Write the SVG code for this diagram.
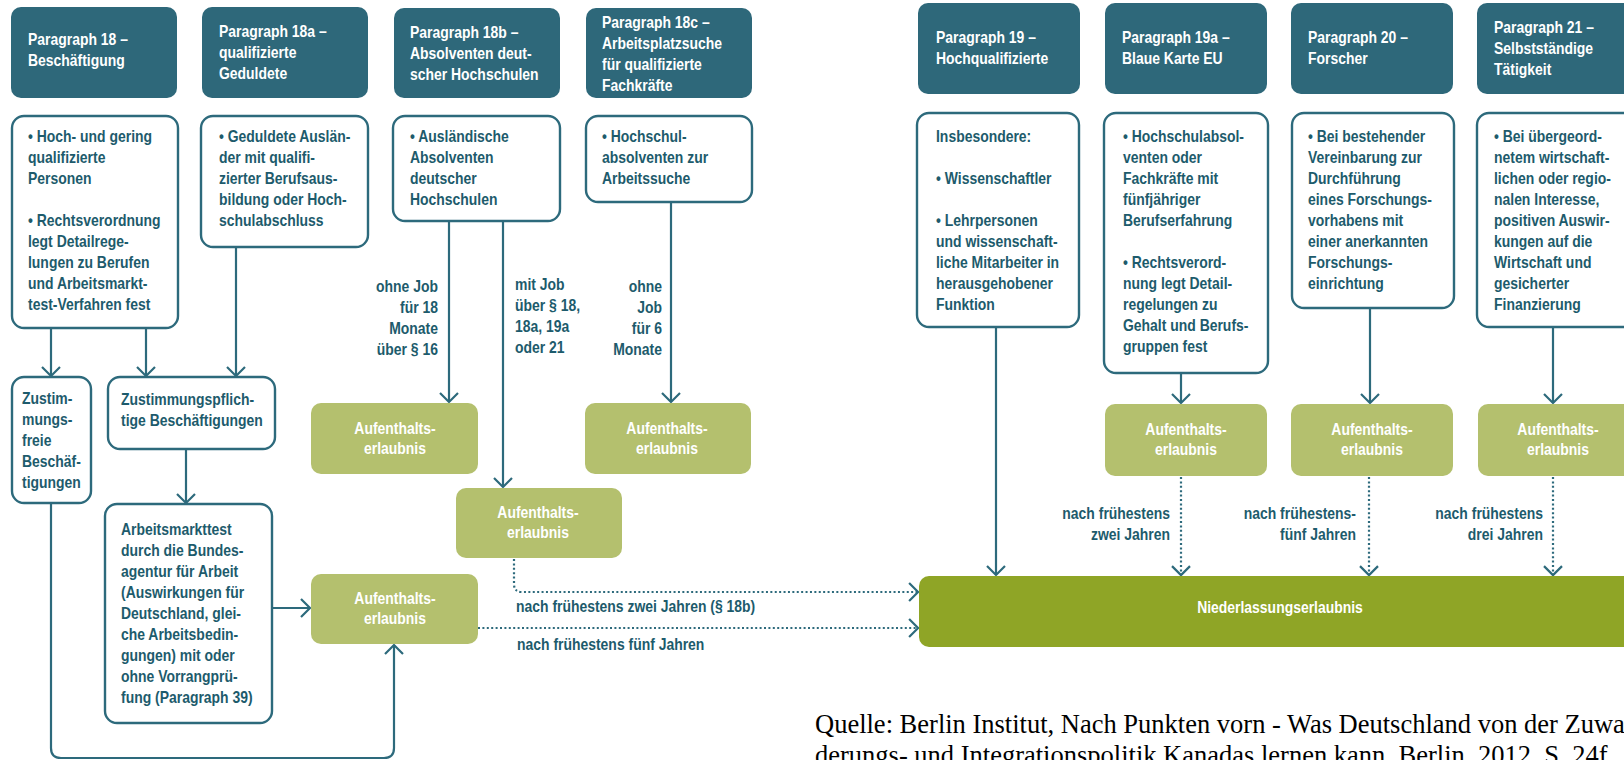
<svg xmlns="http://www.w3.org/2000/svg" width="1624" height="760" viewBox="0 0 1624 760">
<defs>
<marker id="ah" viewBox="-12 -12 24 24" markerWidth="24" markerHeight="24" refX="0" refY="0" orient="auto" markerUnits="userSpaceOnUse">
<path d="M-9,-9 L0,0 L-9,9" fill="none" stroke="#2d6a7c" stroke-width="2.2"/>
</marker>
<style>
.hd{fill:#2e687a}
.bx{fill:#fff;stroke:#2d6a7c;stroke-width:2.4}
.gr{fill:#b4c06e}
.dg{fill:#8fa526}
text{font-family:"Liberation Sans",Arial,sans-serif;font-weight:bold;font-size:16.5px;transform-box:fill-box;transform-origin:0% 50%;transform:scaleX(0.845)}
.wt{fill:#fff}
.tt{fill:#1d5b6c}
.c{text-anchor:middle;transform-origin:50% 50%}
.r{text-anchor:end;transform-origin:100% 50%}
.ln{fill:none;stroke:#2d6a7c;stroke-width:2.2}
.dt{fill:none;stroke:#2d6a7c;stroke-width:2.2;stroke-dasharray:2 2.4}
text.src{font-family:"Liberation Serif","Times New Roman",serif;font-weight:normal;font-size:26.5px;fill:#000;transform:none}
</style>
</defs>
<rect width="1624" height="760" fill="#fff"/>

<g id="connectors">
<path class="ln" d="M51,328 V376" marker-end="url(#ah)"/>
<path class="ln" d="M146,328 V376" marker-end="url(#ah)"/>
<path class="ln" d="M236,247 V376" marker-end="url(#ah)"/>
<path class="ln" d="M186,449 V503" marker-end="url(#ah)"/>
<path class="ln" d="M272,608 H310" marker-end="url(#ah)"/>
<path class="ln" d="M51,503 V748 Q51,758 61,758 H384 Q394,758 394,748 V645" marker-end="url(#ah)"/>
<path class="ln" d="M449,221 V402" marker-end="url(#ah)"/>
<path class="ln" d="M503,221 V487" marker-end="url(#ah)"/>
<path class="ln" d="M671,202 V402" marker-end="url(#ah)"/>
<path class="dt" d="M514,559 V584 Q514,592 522,592 H918" />
<path class="ln" d="M918,592 H918.1" marker-end="url(#ah)"/>
<path class="dt" d="M478,628 H918"/>
<path class="ln" d="M918,628 H918.1" marker-end="url(#ah)"/>
<path class="ln" d="M996,327 V575" marker-end="url(#ah)"/>
<path class="ln" d="M1181,373 V403" marker-end="url(#ah)"/>
<path class="ln" d="M1370,308 V403" marker-end="url(#ah)"/>
<path class="ln" d="M1553,327 V403" marker-end="url(#ah)"/>
<path class="dt" d="M1181,477 V575"/>
<path class="ln" d="M1181,575 V575.1" marker-end="url(#ah)"/>
<path class="dt" d="M1369,477 V575"/>
<path class="ln" d="M1369,575 V575.1" marker-end="url(#ah)"/>
<path class="dt" d="M1553,477 V575"/>
<path class="ln" d="M1553,575 V575.1" marker-end="url(#ah)"/>
</g>

<g id="h18">
<rect class="hd" x="11" y="7" width="166" height="91" rx="10"/>
<text class="wt" x="28" y="45">Paragraph 18 –</text>
<text class="wt" x="28" y="66">Beschäftigung</text>
</g>
<g id="h18a">
<rect class="hd" x="202" y="7" width="166" height="91" rx="10"/>
<text class="wt" x="219" y="37">Paragraph 18a –</text>
<text class="wt" x="219" y="58">qualifizierte</text>
<text class="wt" x="219" y="79">Geduldete</text>
</g>
<g id="h18b">
<rect class="hd" x="394" y="8" width="166" height="90" rx="10"/>
<text class="wt" x="410" y="38">Paragraph 18b –</text>
<text class="wt" x="410" y="59">Absolventen deut-</text>
<text class="wt" x="410" y="80">scher Hochschulen</text>
</g>
<g id="h18c">
<rect class="hd" x="586" y="8" width="166" height="90" rx="10"/>
<text class="wt" x="602" y="28">Paragraph 18c –</text>
<text class="wt" x="602" y="49">Arbeitsplatzsuche</text>
<text class="wt" x="602" y="70">für qualifizierte</text>
<text class="wt" x="602" y="91">Fachkräfte</text>
</g>
<g id="h19">
<rect class="hd" x="918" y="3" width="162" height="91" rx="10"/>
<text class="wt" x="936" y="43">Paragraph 19 –</text>
<text class="wt" x="936" y="64">Hochqualifizierte</text>
</g>
<g id="h19a">
<rect class="hd" x="1105" y="3" width="162" height="91" rx="10"/>
<text class="wt" x="1122" y="43">Paragraph 19a –</text>
<text class="wt" x="1122" y="64">Blaue Karte EU</text>
</g>
<g id="h20">
<rect class="hd" x="1291" y="3" width="162" height="91" rx="10"/>
<text class="wt" x="1308" y="43">Paragraph 20 –</text>
<text class="wt" x="1308" y="64">Forscher</text>
</g>
<g id="h21">
<rect class="hd" x="1477" y="3" width="163" height="91" rx="10"/>
<text class="wt" x="1494" y="33">Paragraph 21 –</text>
<text class="wt" x="1494" y="54">Selbstständige</text>
<text class="wt" x="1494" y="75">Tätigkeit</text>
</g>

<g id="b18">
<rect class="bx" x="12" y="116" width="166" height="212" rx="12"/>
<text class="tt" x="28" y="142">• Hoch- und gering</text>
<text class="tt" x="28" y="163">qualifizierte</text>
<text class="tt" x="28" y="184">Personen</text>
<text class="tt" x="28" y="226">• Rechtsverordnung</text>
<text class="tt" x="28" y="247">legt Detailrege-</text>
<text class="tt" x="28" y="268">lungen zu Berufen</text>
<text class="tt" x="28" y="289">und Arbeitsmarkt-</text>
<text class="tt" x="28" y="310">test-Verfahren fest</text>
</g>
<g id="b18a">
<rect class="bx" x="201" y="116" width="167" height="131" rx="12"/>
<text class="tt" x="219" y="142">• Geduldete Auslän-</text>
<text class="tt" x="219" y="163">der mit qualifi-</text>
<text class="tt" x="219" y="184">zierter Berufsaus-</text>
<text class="tt" x="219" y="205">bildung oder Hoch-</text>
<text class="tt" x="219" y="226">schulabschluss</text>
</g>
<g id="b18b">
<rect class="bx" x="393" y="116" width="167" height="105" rx="12"/>
<text class="tt" x="410" y="142">• Ausländische</text>
<text class="tt" x="410" y="163">Absolventen</text>
<text class="tt" x="410" y="184">deutscher</text>
<text class="tt" x="410" y="205">Hochschulen</text>
</g>
<g id="b18c">
<rect class="bx" x="586" y="116" width="166" height="86" rx="12"/>
<text class="tt" x="602" y="142">• Hochschul-</text>
<text class="tt" x="602" y="163">absolventen zur</text>
<text class="tt" x="602" y="184">Arbeitssuche</text>
</g>
<g id="b19">
<rect class="bx" x="917" y="113" width="162" height="214" rx="12"/>
<text class="tt" x="936" y="142">Insbesondere:</text>
<text class="tt" x="936" y="184">• Wissenschaftler</text>
<text class="tt" x="936" y="226">• Lehrpersonen</text>
<text class="tt" x="936" y="247">und wissenschaft-</text>
<text class="tt" x="936" y="268">liche Mitarbeiter in</text>
<text class="tt" x="936" y="289">herausgehobener</text>
<text class="tt" x="936" y="310">Funktion</text>
</g>
<g id="b19a">
<rect class="bx" x="1104" y="113" width="164" height="260" rx="12"/>
<text class="tt" x="1123" y="142">• Hochschulabsol-</text>
<text class="tt" x="1123" y="163">venten oder</text>
<text class="tt" x="1123" y="184">Fachkräfte mit</text>
<text class="tt" x="1123" y="205">fünfjähriger</text>
<text class="tt" x="1123" y="226">Berufserfahrung</text>
<text class="tt" x="1123" y="268">• Rechtsverord-</text>
<text class="tt" x="1123" y="289">nung legt Detail-</text>
<text class="tt" x="1123" y="310">regelungen zu</text>
<text class="tt" x="1123" y="331">Gehalt und Berufs-</text>
<text class="tt" x="1123" y="352">gruppen fest</text>
</g>
<g id="b20">
<rect class="bx" x="1292" y="113" width="162" height="195" rx="12"/>
<text class="tt" x="1308" y="142">• Bei bestehender</text>
<text class="tt" x="1308" y="163">Vereinbarung zur</text>
<text class="tt" x="1308" y="184">Durchführung</text>
<text class="tt" x="1308" y="205">eines Forschungs-</text>
<text class="tt" x="1308" y="226">vorhabens mit</text>
<text class="tt" x="1308" y="247">einer anerkannten</text>
<text class="tt" x="1308" y="268">Forschungs-</text>
<text class="tt" x="1308" y="289">einrichtung</text>
</g>
<g id="b21">
<rect class="bx" x="1477" y="113" width="163" height="214" rx="12"/>
<text class="tt" x="1494" y="142">• Bei übergeord-</text>
<text class="tt" x="1494" y="163">netem wirtschaft-</text>
<text class="tt" x="1494" y="184">lichen oder regio-</text>
<text class="tt" x="1494" y="205">nalen Interesse,</text>
<text class="tt" x="1494" y="226">positiven Auswir-</text>
<text class="tt" x="1494" y="247">kungen auf die</text>
<text class="tt" x="1494" y="268">Wirtschaft und</text>
<text class="tt" x="1494" y="289">gesicherter</text>
<text class="tt" x="1494" y="310">Finanzierung</text>
</g>

<g id="zfrei">
<rect class="bx" x="12" y="377" width="79" height="126" rx="12"/>
<text class="tt" x="22" y="404">Zustim-</text>
<text class="tt" x="22" y="425">mungs-</text>
<text class="tt" x="22" y="446">freie</text>
<text class="tt" x="22" y="467">Beschäf-</text>
<text class="tt" x="22" y="488">tigungen</text>
</g>
<g id="zpfl">
<rect class="bx" x="108" y="377" width="167" height="72" rx="12"/>
<text class="tt" x="121" y="405">Zustimmungspflich-</text>
<text class="tt" x="121" y="426">tige Beschäftigungen</text>
</g>
<g id="amt">
<rect class="bx" x="105" y="504" width="167" height="219" rx="12"/>
<text class="tt" x="121" y="535">Arbeitsmarkttest</text>
<text class="tt" x="121" y="556">durch die Bundes-</text>
<text class="tt" x="121" y="577">agentur für Arbeit</text>
<text class="tt" x="121" y="598">(Auswirkungen für</text>
<text class="tt" x="121" y="619">Deutschland, glei-</text>
<text class="tt" x="121" y="640">che Arbeitsbedin-</text>
<text class="tt" x="121" y="661">gungen) mit oder</text>
<text class="tt" x="121" y="682">ohne Vorrangprü-</text>
<text class="tt" x="121" y="703">fung (Paragraph 39)</text>
</g>

<g id="ae18b1">
<rect class="gr" x="311" y="403" width="167" height="71" rx="10"/>
<text class="wt c" x="395" y="434">Aufenthalts-</text>
<text class="wt c" x="395" y="454">erlaubnis</text>
</g>
<g id="ae18c">
<rect class="gr" x="585" y="403" width="166" height="71" rx="10"/>
<text class="wt c" x="667" y="434">Aufenthalts-</text>
<text class="wt c" x="667" y="454">erlaubnis</text>
</g>
<g id="ae18b2">
<rect class="gr" x="456" y="488" width="166" height="70" rx="10"/>
<text class="wt c" x="538" y="518">Aufenthalts-</text>
<text class="wt c" x="538" y="538">erlaubnis</text>
</g>
<g id="ae18">
<rect class="gr" x="311" y="574" width="167" height="70" rx="10"/>
<text class="wt c" x="395" y="604">Aufenthalts-</text>
<text class="wt c" x="395" y="624">erlaubnis</text>
</g>
<g id="ae19a">
<rect class="gr" x="1105" y="404" width="162" height="72" rx="10"/>
<text class="wt c" x="1186" y="435">Aufenthalts-</text>
<text class="wt c" x="1186" y="455">erlaubnis</text>
</g>
<g id="ae20">
<rect class="gr" x="1291" y="404" width="162" height="72" rx="10"/>
<text class="wt c" x="1372" y="435">Aufenthalts-</text>
<text class="wt c" x="1372" y="455">erlaubnis</text>
</g>
<g id="ae21">
<rect class="gr" x="1478" y="404" width="162" height="72" rx="10"/>
<text class="wt c" x="1558" y="435">Aufenthalts-</text>
<text class="wt c" x="1558" y="455">erlaubnis</text>
</g>

<g id="nle">
<rect class="dg" x="919" y="576" width="722" height="71" rx="10"/>
<text class="wt c" x="1280" y="613">Niederlassungserlaubnis</text>
</g>

<g id="labels">
<text class="tt r" x="438" y="292">ohne Job</text>
<text class="tt r" x="438" y="313">für 18</text>
<text class="tt r" x="438" y="334">Monate</text>
<text class="tt r" x="438" y="355">über § 16</text>
<text class="tt" x="515" y="290">mit Job</text>
<text class="tt" x="515" y="311">über § 18,</text>
<text class="tt" x="515" y="332">18a, 19a</text>
<text class="tt" x="515" y="353">oder 21</text>
<text class="tt r" x="662" y="292">ohne</text>
<text class="tt r" x="662" y="313">Job</text>
<text class="tt r" x="662" y="334">für 6</text>
<text class="tt r" x="662" y="355">Monate</text>
<text class="tt" x="516" y="612">nach frühestens zwei Jahren (§ 18b)</text>
<text class="tt" x="517" y="650">nach frühestens fünf Jahren</text>
<text class="tt r" x="1170" y="519">nach frühestens</text>
<text class="tt r" x="1170" y="540">zwei Jahren</text>
<text class="tt r" x="1356" y="519">nach frühestens-</text>
<text class="tt r" x="1356" y="540">fünf Jahren</text>
<text class="tt r" x="1543" y="519">nach frühestens</text>
<text class="tt r" x="1543" y="540">drei Jahren</text>
</g>

<g id="source">
<text class="src" x="815" y="733">Quelle: Berlin Institut, Nach Punkten vorn - Was Deutschland von der Zuwan-</text>
<text class="src" x="815" y="764">derungs- und Integrationspolitik Kanadas lernen kann, Berlin, 2012, S. 24f.</text>
</g>
</svg>
